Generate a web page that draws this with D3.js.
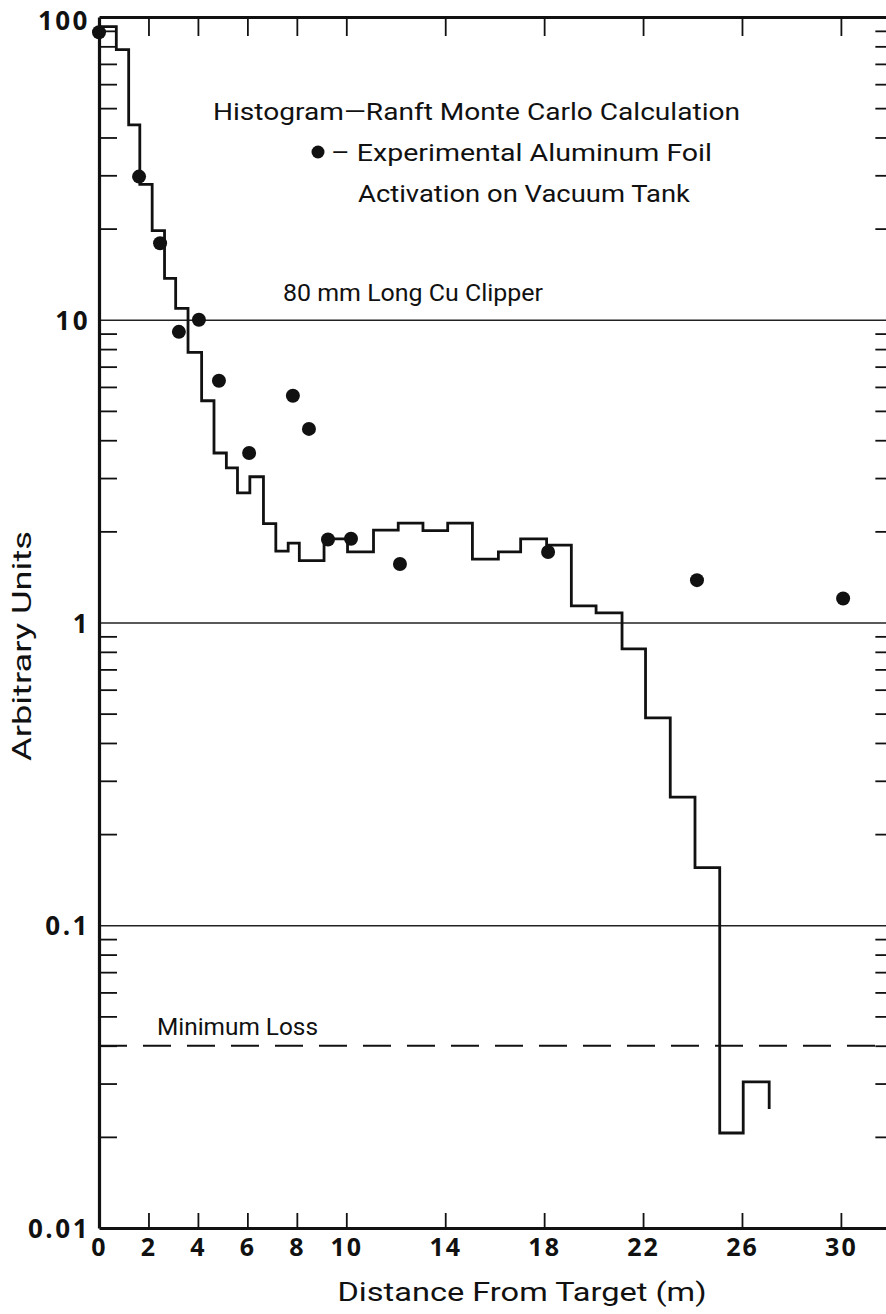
<!DOCTYPE html>
<html>
<head>
<meta charset="utf-8">
<script src="https://cdn.jsdelivr.net/npm/d3@7"></script>
<style>
  html, body { margin: 0; padding: 0; background: #fff; }
  svg { display: block; }
  .tick text { fill: #111; }
</style>
</head>
<body>
<svg id="chart" width="886" height="1314"></svg>
<script>
// ---------- data ----------
// Histogram (Ranft Monte Carlo): left bin edges (m) and values (arbitrary units)
const histEdges = [0, 0.7, 1.2, 1.65, 2.15, 2.65, 3.1, 3.6, 4.15, 4.65, 5.15, 5.6, 6.1, 6.65, 7.15, 7.65, 8.1,
                   9.1, 10.05, 11.1, 12.1, 13.1, 14.1, 15.1, 16.15, 17.05, 18.1, 19.1, 20.1, 21.15, 22.1, 23.1, 24.1, 25.1, 26.05];
const histValues = [93, 78, 44, 28, 19.7, 13.7, 10.9, 7.8, 5.4, 3.63, 3.24, 2.68, 3.03, 2.12, 1.72, 1.83, 1.60,
                    1.89, 1.71, 2.02, 2.13, 2.01, 2.13, 1.62, 1.71, 1.89, 1.80, 1.135, 1.076, 0.818, 0.484, 0.265, 0.155, 0.0206, 0.0304];
const histEnd = [27.1, 0.0247];

// Experimental aluminum foil activation points
const expDistance = [0, 1.62, 2.47, 3.23, 4.04, 4.85, 6.07, 7.84, 8.49, 9.26, 10.19, 12.17, 18.16, 24.18, 30.09];
const expValue    = [89, 29.7, 17.9, 9.12, 10.0, 6.29, 3.63, 5.61, 4.36, 1.88, 1.89, 1.56, 1.71, 1.38, 1.20];

const minimumLoss = 0.04;

const xTickValues = [0, 2, 4, 6, 8, 10, 14, 18, 22, 26, 30];
const xTickMarks  = [2, 4, 6, 8, 10, 14, 18, 22, 26, 30];
const yTickValues = [0.01, 0.1, 1, 10, 100];
const yTickLabels = ["0.01", "0.1", "1", "10", "100"];
const yGridValues = [0.1, 1, 10];
const yMinorValues = [];
[0.01, 0.1, 1, 10].forEach(d => { for (let k = 2; k <= 9; k++) yMinorValues.push(+(d * k).toPrecision(3)); });

// ---------- layout ----------
const svg = d3.select("#chart");
const X0 = 99, X1 = 99 + 32 * 24.73, YT = 17, YB = 1228;
const x = d3.scaleLinear().domain([0, 32]).range([X0, X1]);
const y = d3.scaleLog().domain([0.01, 100]).range([YB, YT]);

const tickFont = "'Open Sans', 'DejaVu Sans', sans-serif";
const textFont = "Roboto, 'Liberation Sans', sans-serif";

// gridlines
svg.append("g").attr("transform", `translate(${X0},0)`)
  .call(d3.axisRight(y).tickValues(yGridValues).tickSize(X1 - X0).tickFormat(""))
  .call(g => g.select(".domain").remove())
  .call(g => g.selectAll("line").attr("stroke", "#222").attr("stroke-width", 1.3));

// minimum loss dashed line
svg.append("line")
  .attr("x1", x(0)).attr("x2", x(32))
  .attr("y1", y(minimumLoss)).attr("y2", y(minimumLoss))
  .attr("stroke", "#111").attr("stroke-width", 2.2)
  .attr("stroke-dasharray", "28,16");

// left minor ticks (inward)
svg.append("g").attr("transform", `translate(${X0},0)`)
  .call(d3.axisRight(y).tickValues(yMinorValues).tickSize(18).tickFormat(""))
  .call(g => g.select(".domain").remove())
  .call(g => g.selectAll("line").attr("stroke", "#111").attr("stroke-width", 1.8));

// right axis minor ticks (inward)
svg.append("g").attr("transform", `translate(${X1},0)`)
  .call(d3.axisLeft(y).tickValues(yMinorValues).tickSize(15).tickSizeOuter(0).tickFormat(""))
  .call(g => g.select(".domain").attr("stroke", "#111").attr("stroke-width", 3))
  .call(g => g.selectAll(".tick line").attr("stroke", "#111").attr("stroke-width", 1.8));

// top axis ticks
svg.append("g").attr("transform", `translate(0,${YT})`)
  .call(d3.axisBottom(x).tickValues(xTickMarks).tickSize(19).tickSizeOuter(0).tickFormat(""))
  .call(g => g.select(".domain").attr("stroke", "#111").attr("stroke-width", 3.2))
  .call(g => g.selectAll(".tick line").attr("stroke", "#111").attr("stroke-width", 1.8));

// bottom axis ticks
svg.append("g").attr("transform", `translate(0,${YB})`)
  .call(d3.axisTop(x).tickValues(xTickMarks).tickSize(15).tickSizeOuter(0).tickFormat(""))
  .call(g => g.select(".domain").attr("stroke", "#111").attr("stroke-width", 3.2))
  .call(g => g.selectAll(".tick line").attr("stroke", "#111").attr("stroke-width", 1.8));

// bottom labels
svg.append("g").attr("transform", `translate(0,${YB})`)
  .call(d3.axisBottom(x).tickValues(xTickValues).tickSize(0).tickPadding(12).tickFormat(d3.format("d")))
  .call(g => g.select(".domain").remove())
  .call(g => g.selectAll("text").attr("font-family", tickFont).attr("font-size", 25)
                 .attr("font-weight", 700).attr("letter-spacing", 2).attr("dy", "0.64em"));

// left axis with labels
svg.append("g").attr("transform", `translate(${X0},0)`)
  .call(d3.axisLeft(y).tickValues(yTickValues).tickSize(0).tickSizeOuter(0).tickPadding(9)
        .tickFormat((d, i) => yTickLabels[i]))
  .call(g => g.select(".domain").attr("stroke", "#111").attr("stroke-width", 3.2))
  .call(g => g.selectAll("text").attr("font-family", tickFont).attr("font-size", 26)
                 .attr("font-weight", 700).attr("letter-spacing", 2.5)
                 .attr("dy", d => d === 100 ? 12 : 9.5));

// histogram
const histPts = histEdges.map((e, i) => [e, histValues[i]]).concat([histEnd]);
svg.append("path")
  .datum(histPts)
  .attr("fill", "none").attr("stroke", "#111").attr("stroke-width", 2.8)
  .attr("stroke-linejoin", "miter")
  .attr("d", d3.line().x(d => x(d[0])).y(d => y(d[1])).curve(d3.curveStepAfter));

// experimental points
svg.append("g").selectAll("circle")
  .data(expDistance.map((d, i) => [d, expValue[i]]))
  .join("circle")
  .attr("cx", d => x(d[0])).attr("cy", d => y(d[1])).attr("r", 7)
  .attr("fill", "#111");

// annotations
function label(txt, xs, xe, base, size) {
  svg.append("text").attr("x", xs).attr("y", base)
    .attr("font-family", textFont).attr("font-size", size).attr("fill", "#111")
    .attr("textLength", xe - xs).attr("lengthAdjust", "spacingAndGlyphs")
    .text(txt);
}
label("Histogram\u2014Ranft Monte Carlo Calculation", 213, 740, 120, 24);
svg.append("circle").attr("cx", 318).attr("cy", 152).attr("r", 6.5).attr("fill", "#111");
label("\u2013 Experimental Aluminum Foil", 331, 712, 161, 24);
label("Activation on Vacuum Tank", 358, 690, 202, 24);
label("80 mm Long Cu Clipper", 283, 543, 301, 24);
label("Minimum Loss", 157, 318, 1035, 24);

// axis titles
svg.append("text")
  .attr("x", 522).attr("y", 1301).attr("text-anchor", "middle")
  .attr("font-family", textFont).attr("font-size", 26).attr("fill", "#111")
  .attr("textLength", 369).attr("lengthAdjust", "spacingAndGlyphs")
  .text("Distance From Target (m)");

svg.append("text")
  .attr("transform", "translate(31,646) rotate(-90)")
  .attr("text-anchor", "middle")
  .attr("font-family", textFont).attr("font-size", 26).attr("fill", "#111")
  .attr("textLength", 230).attr("lengthAdjust", "spacingAndGlyphs")
  .text("Arbitrary Units");
</script>
</body>
</html>
